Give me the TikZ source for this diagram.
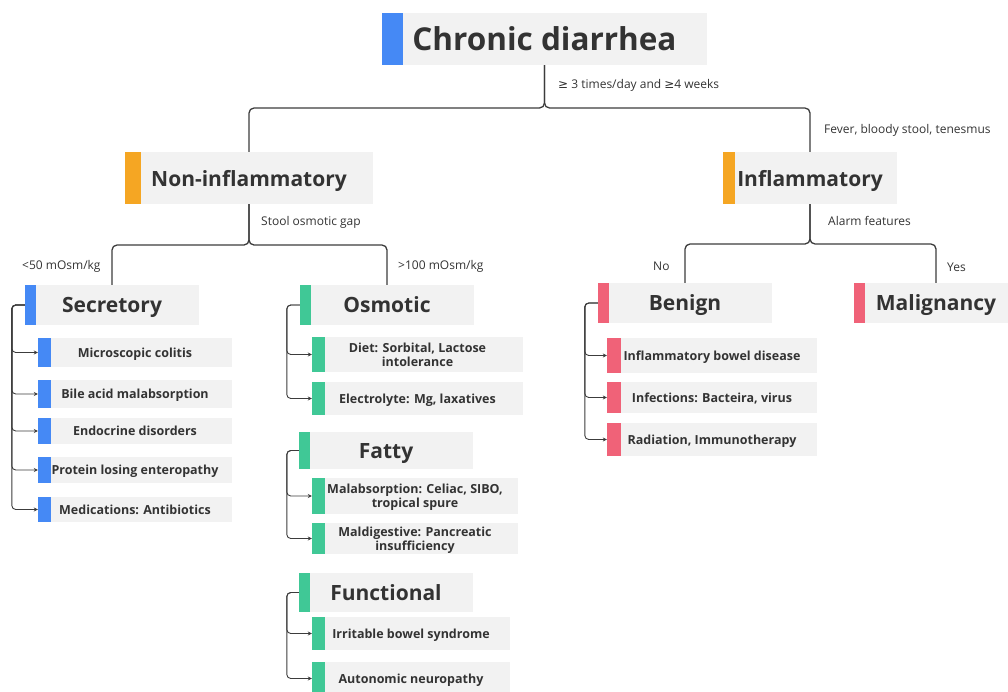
\documentclass[tikz,border=0pt]{standalone}
\usepackage{xcolor}
\usepackage{fontspec}
\setmainfont{Open Sans}
\newfontfamily\symfont{DejaVu Sans}
\usepackage{tikz}
\usetikzlibrary{arrows.meta}
\definecolor{barblue}{RGB}{69,137,245}
\definecolor{barorange}{RGB}{245,166,35}
\definecolor{bargreen}{RGB}{64,200,150}
\definecolor{barpink}{RGB}{240,98,120}
\definecolor{boxgray}{RGB}{242,242,242}
\definecolor{textgray}{RGB}{51,51,51}
\definecolor{linegray}{RGB}{60,60,60}
\tikzset{bar width/.store in=\barw, bar width=12pt,
  box/.style={fill=boxgray, text=textgray, font=\bfseries, align=center, inner sep=0pt, text depth=0pt,
    path picture={\fill[#1] (path picture bounding box.north west) rectangle ([xshift=\barw]path picture bounding box.south west);}},
  cat/.style={box=#1, font=\fontsize{21}{24}\selectfont\bfseries, minimum width=174pt, minimum height=40pt, bar width=11pt},
  item/.style={box=#1, font=\fontsize{12.5}{14}\selectfont\bfseries, bar width=13pt},
  tree/.style={draw=linegray, line width=1.3pt, rounded corners=5pt},
  link/.style={draw=linegray, line width=0.9pt, rounded corners=4pt, -{Stealth[length=4pt,width=4pt]}},
  cond/.style={font=\fontsize{12}{14}\selectfont, text=textgray, anchor=west, inner sep=0pt}}

\begin{document}
\begin{tikzpicture}[x=1pt,y=-1pt]
\useasboundingbox (0,0) rectangle (1008,691);
\node[box=barblue, bar width=21pt, minimum width=325pt, minimum height=52pt, font=\fontsize{31.5}{36}\selectfont\bfseries] (chronic) at (544.5,39) {Chronic diarrhea};
\node[cat=barorange, minimum width=248pt, minimum height=52pt, bar width=16pt] (noninf) at (249,178) {Non-inflammatory};
\node[cat=barorange, minimum height=52pt, bar width=12pt] (inflam) at (810,178) {Inflammatory};
\node[cat=barblue] (secret) at (112,305) {Secretory};
\node[cat=bargreen] (osmotic) at (387,305) {Osmotic};
\node[cat=bargreen, minimum height=37pt] (fatty) at (386,450.5) {Fatty};
\node[cat=bargreen, minimum height=39pt] (funct) at (386,592.5) {Functional};
\node[cat=barpink] (benign) at (685,303) {Benign};
\node[cat=barpink, minimum width=164pt] (malig) at (936,303) {Malignancy};

\node[item=barblue, minimum width=194pt, minimum height=29pt] (micro) at (135,352.5) {Microscopic colitis};
\node[item=barblue, minimum width=194pt, minimum height=28pt] (bile) at (135,394) {Bile acid malabsorption};
\node[item=barblue, minimum width=194pt, minimum height=26pt] (endo) at (135,431) {Endocrine disorders};
\node[item=barblue, minimum width=194pt, minimum height=26pt] (protein) at (135,470) {Protein losing enteropathy};
\node[item=barblue, minimum width=194pt, minimum height=25pt] (medic) at (135,509.5) {Medications: Antibiotics};

\node[item=bargreen, minimum width=211pt, minimum height=35pt] (diet) at (417.5,354.5) {Diet: Sorbital, Lactose\\intolerance};
\node[item=bargreen, minimum width=211pt, minimum height=33pt] (electro) at (417.5,398.5) {Electrolyte: Mg, laxatives};
\node[item=bargreen, minimum width=206pt, minimum height=36pt] (malabs) at (415,496) {Malabsorption: Celiac, SIBO,\\tropical spure};
\node[item=bargreen, minimum width=206pt, minimum height=31pt] (maldig) at (415,538.5) {Maldigestive: Pancreatic\\insufficiency};
\node[item=bargreen, minimum width=198pt, minimum height=33pt] (ibs) at (411,633.5) {Irritable bowel syndrome};
\node[item=bargreen, minimum width=198pt, minimum height=33pt] (autonom) at (411,678.5) {Autonomic neuropathy};

\node[item=barpink, bar width=14pt, minimum width=210pt, minimum height=35pt] (ibd) at (712,355.5) {Inflammatory bowel disease};
\node[item=barpink, bar width=14pt, minimum width=210pt, minimum height=31pt] (infect) at (712,397.5) {Infections: Bacteira, virus};
\node[item=barpink, bar width=14pt, minimum width=210pt, minimum height=33pt] (radiat) at (712,439.5) {Radiation, Immunotherapy};

\draw[tree] (chronic.south) -- (chronic.south |- 0,108) -| (noninf.north);
\draw[tree] (chronic.south) -- (chronic.south |- 0,108) -| (inflam.north);
\draw[tree] (noninf.south) -- (noninf.south |- 0,245) -| (secret.north);
\draw[tree] (noninf.south) -- (noninf.south |- 0,245) -| (osmotic.north);
\draw[tree] (inflam.south) -- (inflam.south |- 0,244) -| (benign.north);
\draw[tree] (inflam.south) -- (inflam.south |- 0,244) -| (malig.north);

\draw[link] (secret.west) -- ++(-13,0) |- (micro.west);
\draw[link] (secret.west) -- ++(-13,0) |- (bile.west);
\draw[link] (secret.west) -- ++(-13,0) |- (endo.west);
\draw[link] (secret.west) -- ++(-13,0) |- (protein.west);
\draw[link] (secret.west) -- ++(-13,0) |- (medic.west);
\draw[link] (osmotic.west) -- ++(-13,0) |- (diet.west);
\draw[link] (osmotic.west) -- ++(-13,0) |- (electro.west);
\draw[link] (fatty.west) -- ++(-12,0) |- (malabs.west);
\draw[link] (fatty.west) -- ++(-12,0) |- (maldig.west);
\draw[link] (funct.west) -- ++(-12,0) |- (ibs.west);
\draw[link] (funct.west) -- ++(-12,0) |- (autonom.west);
\draw[link] (benign.west) -- ++(-13,0) |- (ibd.west);
\draw[link] (benign.west) -- ++(-13,0) |- (infect.west);
\draw[link] (benign.west) -- ++(-13,0) |- (radiat.west);

\node[cond] (freq) at (558,85) {{\symfont ≥} 3 times/day and {\symfont ≥}4 weeks};
\node[cond] (fever) at (824,130) {Fever, bloody stool, tenesmus};
\node[cond] (gap) at (261,222) {Stool osmotic gap};
\node[cond] (low) at (22,266) {<50 mOsm/kg};
\node[cond] (high) at (398,266) {>100 mOsm/kg};
\node[cond] (alarm) at (828,221) {Alarm features};
\node[cond] (no) at (653,266) {No};
\node[cond] (yes) at (947,267) {Yes};
\end{tikzpicture}
\end{document}
